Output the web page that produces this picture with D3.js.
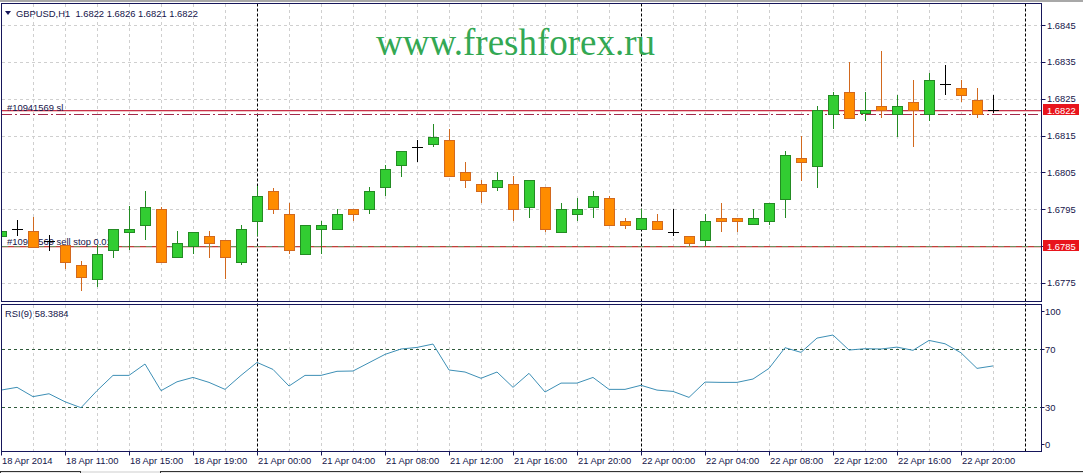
<!DOCTYPE html>
<meta charset="utf-8">
<style>
body { margin: 0; background: #fff; }
svg text { font-family: 'Liberation Sans', Arial, sans-serif; font-size: 9.4px; fill: #14144a; }
.grid line { stroke: #cfcfcf; stroke-dasharray: 3,3; shape-rendering: crispEdges; }
.frame { fill: none; stroke: #16165a; shape-rendering: crispEdges; }
</style>
<body>
<svg width="1083" height="473"></svg>
<script src="https://d3js.org/d3.v7.min.js"></script>
<script>
// GBPUSD H1, bars 18 Apr 07:00 .. 22 Apr 22:00
var opens = [1.67878,1.67897,1.67890,1.67863,1.67852,1.67798,1.67759,1.67838,1.67888,1.67908,
  1.67949,1.67819,1.67849,1.67878,1.67867,1.67807,1.67919,1.67999,1.67938,1.67827,
  1.67897,1.67897,1.67949,1.67949,1.68009,1.68069,1.68118,1.68128,1.68139,1.68050,
  1.68018,1.68009,1.68018,1.67956,1.68009,1.67888,1.67938,1.67956,1.67979,1.67919,
  1.67897,1.67919,1.67888,1.67878,1.67867,1.67927,1.67927,1.67909,1.67918,1.67978,
  1.68088,1.68068,1.68209,1.68269,1.68210,1.68229,1.68209,1.68240,1.68209,1.68290,
  1.68278,1.68248,1.68220];
var highs = [1.67895,1.67920,1.67929,1.67879,1.67852,1.67809,1.67852,1.67897,1.67958,1.67999,
  1.67956,1.67890,1.67889,1.67890,1.67867,1.67908,1.68012,1.68008,1.67968,1.67908,
  1.67919,1.67949,1.67949,1.68009,1.68069,1.68108,1.68139,1.68181,1.68169,1.68078,
  1.68029,1.68050,1.68039,1.68028,1.68009,1.67968,1.67979,1.67999,1.67987,1.67927,
  1.67949,1.67938,1.67949,1.67878,1.67938,1.67968,1.67927,1.67949,1.67968,1.68109,
  1.68148,1.68230,1.68269,1.68349,1.68269,1.68379,1.68260,1.68300,1.68320,1.68341,
  1.68300,1.68278,1.68260];
var lows = [1.67875,1.67876,1.67847,1.67836,1.67786,1.67728,1.67737,1.67817,1.67838,1.67867,
  1.67807,1.67819,1.67827,1.67817,1.67759,1.67798,1.67876,1.67938,1.67829,1.67827,
  1.67827,1.67897,1.67918,1.67938,1.67987,1.68038,1.68078,1.68118,1.68039,1.68008,
  1.67967,1.67998,1.67918,1.67927,1.67888,1.67888,1.67918,1.67927,1.67908,1.67897,
  1.67897,1.67897,1.67878,1.67849,1.67849,1.67888,1.67888,1.67909,1.67908,1.67927,
  1.68027,1.68008,1.68169,1.68199,1.68189,1.68199,1.68146,1.68118,1.68189,1.68260,
  1.68240,1.68199,1.68210];
var closes = [1.67891,1.67897,1.67847,1.67863,1.67807,1.67766,1.67827,1.67897,1.67897,1.67957,
  1.67807,1.67859,1.67889,1.67858,1.67819,1.67897,1.67987,1.67949,1.67838,1.67908,
  1.67908,1.67938,1.67938,1.67999,1.68058,1.68108,1.68118,1.68147,1.68039,1.68028,
  1.67998,1.68028,1.67949,1.68028,1.67897,1.67949,1.67949,1.67987,1.67908,1.67908,
  1.67927,1.67897,1.67888,1.67858,1.67919,1.67918,1.67918,1.67927,1.67968,1.68098,
  1.68078,1.68219,1.68260,1.68199,1.68219,1.68219,1.68229,1.68219,1.68300,1.68290,
  1.68259,1.68209,1.68220];
var rsi = [41.8,43.7,37.3,39.3,33.8,29.7,41.4,51.9,51.9,59.7,
  41.4,47.5,50.5,47.1,42.3,51.9,60.8,56.0,44.6,51.9,
  51.9,54.7,54.9,60.6,66.3,70.0,71.1,73.4,55.6,54.2,
  49.9,54.2,43.7,53.3,40.5,46.6,46.6,50.5,42.3,42.3,
  45.1,41.8,40.9,36.8,47.3,47.1,47.1,49.4,56.7,70.9,
  67.7,77.5,79.6,69.3,70.2,70.0,71.3,69.1,75.9,73.6,
  67.4,56.7,58.3884];

var timeLabels = ["18 Apr 2014","18 Apr 11:00","18 Apr 15:00","18 Apr 19:00","21 Apr 00:00",
  "21 Apr 04:00","21 Apr 08:00","21 Apr 12:00","21 Apr 16:00","21 Apr 20:00",
  "22 Apr 00:00","22 Apr 04:00","22 Apr 08:00","22 Apr 12:00","22 Apr 16:00","22 Apr 20:00"];
var barsPerLabel = 4;
var daySeparators = [16, 40, 64];   // bar index of 21 Apr, 22 Apr, 23 Apr 00:00
var priceTicks = [1.6775,1.6785,1.6795,1.6805,1.6815,1.6825,1.6835,1.6845];
var rsiTicks = [0,30,70,100];
var rsiLevels = [30,70];
var slPrice = 1.6822, askPrice = 1.68209, stopPrice = 1.6785, bidPrice = 1.6822;

var svg = d3.select("svg");

var x = d3.scaleLinear().domain([0, 64]).range([1, 1025]);
var y = d3.scaleLinear().domain([1.6775, 1.6845]).range([282.7, 25.2]);
var yr = d3.scaleLinear().domain([0, 100]).range([451, 305.3]);

var main = {top: 3.5, bottom: 301.5}, sub = {top: 304.5, bottom: 451.5}, right = 1041.5;

// window top edge
svg.append("rect").attr("x", 0).attr("y", 0).attr("width", 1083).attr("height", 2).attr("fill", "#a8a8a8");

svg.append("clipPath").attr("id", "cm").append("rect")
    .attr("x", 2).attr("y", main.top).attr("width", right - 2).attr("height", main.bottom - main.top);
svg.append("clipPath").attr("id", "cs").append("rect")
    .attr("x", 2).attr("y", sub.top).attr("width", right - 2).attr("height", sub.bottom - sub.top);

var gridX = d3.range(2, 64, 2).filter(function(k) { return daySeparators.indexOf(k) < 0; });

// grids
var gm = svg.append("g").attr("class", "grid").attr("clip-path", "url(#cm)");
gm.selectAll(".v").data(gridX).enter().append("line")
    .attr("x1", function(k) { return Math.round(x(k)) + 0.5; })
    .attr("x2", function(k) { return Math.round(x(k)) + 0.5; })
    .attr("y1", main.top).attr("y2", main.bottom);
gm.selectAll(".h").data(priceTicks).enter().append("line")
    .attr("x1", 2).attr("x2", right)
    .attr("y1", function(d) { return Math.round(y(d)) + 0.5; })
    .attr("y2", function(d) { return Math.round(y(d)) + 0.5; });

var gs = svg.append("g").attr("class", "grid").attr("clip-path", "url(#cs)");
gs.selectAll(".v").data(gridX).enter().append("line")
    .attr("x1", function(k) { return Math.round(x(k)) + 0.5; })
    .attr("x2", function(k) { return Math.round(x(k)) + 0.5; })
    .attr("y1", sub.top).attr("y2", sub.bottom);

// day separators
svg.append("g").selectAll("line").data(daySeparators).enter().append("line")
    .attr("x1", function(k) { return Math.round(x(k)) + 0.5; })
    .attr("x2", function(k) { return Math.round(x(k)) + 0.5; })
    .attr("y1", main.top).attr("y2", sub.bottom)
    .attr("stroke", "#000").attr("stroke-dasharray", "3,2");

// watermark
svg.append("text").attr("x", 376).attr("y", 55)
    .style("font-family", "'Liberation Serif', 'Times New Roman', serif")
    .style("font-size", "37px").style("fill", "#33a853")
    .text("www.freshforex.ru");

// order lines
var lines = svg.append("g").attr("clip-path", "url(#cm)");
function hline(p, color, dash, dy) {
  var yy = Math.round(y(p)) + 0.5 + (dy || 0);
  lines.append("line").attr("x1", 2).attr("x2", right).attr("y1", yy).attr("y2", yy)
      .attr("stroke", color).attr("stroke-dasharray", dash || null);
}
hline(slPrice, "#f3c4c4", null, 1);
hline(slPrice, "#c8304a");
hline(askPrice, "#a32a4a", "10,3,2,3", 0);
hline(stopPrice, "#f3c4c4", null, 1);
hline(stopPrice, "#c0403a");
hline(stopPrice, "#6f8f5f", "6,6");

lines.append("text").attr("x", 7).attr("y", y(slPrice) + 1).text("#10941569 sl");
lines.append("text").attr("x", 7).attr("y", y(stopPrice) - 1).text("#10941569 sell stop 0.01");

// candles
var bars = d3.range(opens.length).map(function(i) {
  return {i: i, o: opens[i], h: highs[i], l: lows[i], c: closes[i]};
});
var cg = svg.append("g").attr("clip-path", "url(#cm)").style("shape-rendering", "crispEdges");
var candle = cg.selectAll("g").data(bars).enter().append("g");
function col(d) { return d.c > d.o ? "#238b23" : d.c < d.o ? "#d2691e" : "#000"; }
candle.append("line")
    .attr("x1", function(d) { return Math.round(x(d.i)) + 0.5; })
    .attr("x2", function(d) { return Math.round(x(d.i)) + 0.5; })
    .attr("y1", function(d) { return Math.round(y(d.h)); })
    .attr("y2", function(d) { return Math.round(y(d.l)); })
    .attr("stroke", col);
candle.filter(function(d) { return d.c !== d.o; }).append("rect")
    .attr("x", function(d) { return Math.round(x(d.i)) - 4.5; })
    .attr("y", function(d) { return Math.round(y(Math.max(d.o, d.c))) + 0.5; })
    .attr("width", 10)
    .attr("height", function(d) { return Math.max(1, Math.round(y(Math.min(d.o, d.c))) - Math.round(y(Math.max(d.o, d.c)))); })
    .attr("fill", function(d) { return d.c > d.o ? "#32cd32" : "#ff8c00"; })
    .attr("stroke", col);
candle.filter(function(d) { return d.c === d.o; }).append("line")
    .attr("x1", function(d) { return Math.round(x(d.i)) - 5; })
    .attr("x2", function(d) { return Math.round(x(d.i)) + 6; })
    .attr("y1", function(d) { return Math.round(y(d.o)) + 0.5; })
    .attr("y2", function(d) { return Math.round(y(d.o)) + 0.5; })
    .attr("stroke", "#000");

// RSI
var rg = svg.append("g").attr("clip-path", "url(#cs)");
rg.selectAll("line").data(rsiLevels).enter().append("line")
    .attr("x1", 2).attr("x2", right)
    .attr("y1", function(d) { return Math.round(yr(d)) + 0.5; })
    .attr("y2", function(d) { return Math.round(yr(d)) + 0.5; })
    .attr("stroke", "#2f5a3a").attr("stroke-dasharray", "3,3");
rg.append("path").datum(rsi)
    .attr("fill", "none").attr("stroke", "#3d8fb5").attr("stroke-width", 1)
    .attr("d", d3.line().x(function(d, i) { return x(i); }).y(function(d) { return yr(d); }));

// frames
svg.append("rect").attr("class", "frame").attr("x", 1.5).attr("y", main.top)
    .attr("width", right - 1.5).attr("height", main.bottom - main.top);
svg.append("rect").attr("class", "frame").attr("x", 1.5).attr("y", sub.top)
    .attr("width", right - 1.5).attr("height", sub.bottom - sub.top);

// price axis
var pa = svg.append("g");
pa.selectAll("line").data(priceTicks).enter().append("line")
    .attr("x1", right).attr("x2", right + 4)
    .attr("y1", function(d) { return Math.round(y(d)) + 0.5; })
    .attr("y2", function(d) { return Math.round(y(d)) + 0.5; })
    .attr("stroke", "#16165a");
pa.selectAll("text").data(priceTicks).enter().append("text")
    .attr("x", 1047).attr("y", function(d) { return y(d) + 3.5; })
    .text(function(d) { return d.toFixed(4); });

[bidPrice, stopPrice].forEach(function(p) {
  var yy = Math.round(y(p));
  pa.append("rect").attr("x", 1043).attr("y", yy - 6).attr("width", 36).attr("height", 11).attr("fill", "#e8141c");
  pa.append("text").attr("x", 1047).attr("y", yy + 3.5).style("fill", "#fff").text(p.toFixed(4));
});

// rsi axis
var ra = svg.append("g");
ra.selectAll("line").data(rsiTicks).enter().append("line")
    .attr("x1", right).attr("x2", right + 3)
    .attr("y1", function(d) { return Math.round(d === 100 ? 311 : d === 0 ? 444 : yr(d)) + 0.5; })
    .attr("y2", function(d) { return Math.round(d === 100 ? 311 : d === 0 ? 444 : yr(d)) + 0.5; })
    .attr("stroke", "#16165a");
ra.selectAll("text").data(rsiTicks).enter().append("text")
    .attr("x", 1045)
    .attr("y", function(d) { return (d === 100 ? 311 : d === 0 ? 444 : yr(d)) + 3.5; })
    .text(function(d) { return d; });

// time axis
var ta = svg.append("g");
ta.selectAll("line").data(timeLabels).enter().append("line")
    .attr("x1", function(d, i) { return Math.round(x(i * barsPerLabel)) + 0.5; })
    .attr("x2", function(d, i) { return Math.round(x(i * barsPerLabel)) + 0.5; })
    .attr("y1", sub.bottom).attr("y2", sub.bottom + 4)
    .attr("stroke", "#16165a");
ta.selectAll("text").data(timeLabels).enter().append("text")
    .attr("x", function(d, i) { return x(i * barsPerLabel) + 1; })
    .attr("y", 464)
    .text(function(d) { return d; });

// bottom tabs strip
var tabs = svg.append("g").style("shape-rendering", "crispEdges");
tabs.append("rect").attr("x", 0).attr("y", 471).attr("width", 1083).attr("height", 2).attr("fill", "#e6e6e6");
[[0, 80], [160, 1083]].forEach(function(t) {
  tabs.append("path").attr("d", "M" + t[0] + ",473.5V471.5H" + t[1] + "V473.5")
      .attr("fill", "none").attr("stroke", "#333");
});

// headers
svg.append("path").attr("d", "M5,11 L11,11 L8,15 Z").attr("fill", "#16165a");
svg.append("text").attr("x", 16).attr("y", 17).text("GBPUSD,H1  1.6822 1.6826 1.6821 1.6822").style("white-space", "pre");
svg.append("text").attr("x", 5).attr("y", 317).text("RSI(9) 58.3884");
</script>
</body>
